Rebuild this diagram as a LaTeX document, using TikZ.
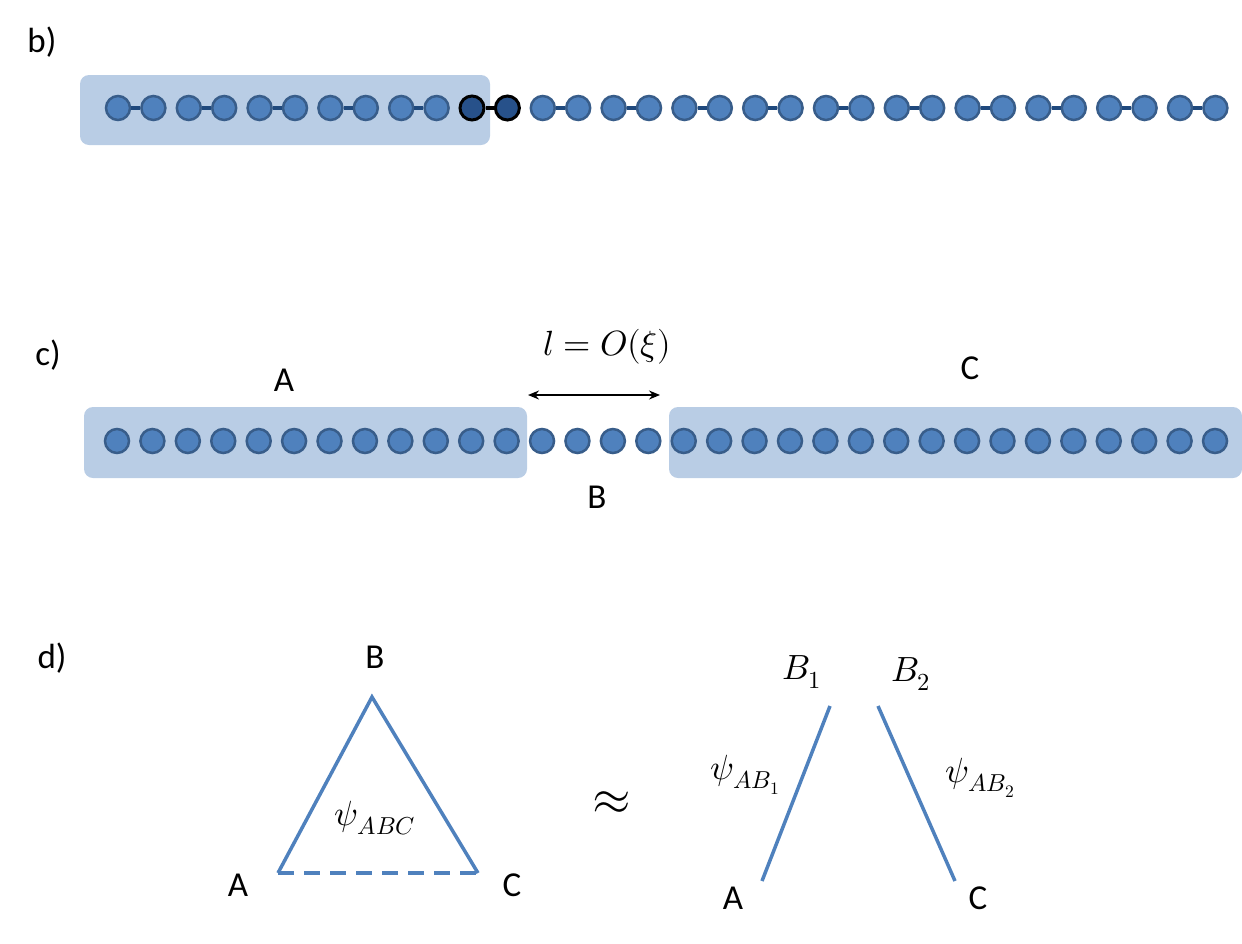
\documentclass[tikz,border=0pt]{standalone}
\usepackage{fontspec}
\usepackage{unicode-math}
\setmainfont{Carlito}
\setmathfont{Latin Modern Math}
\usetikzlibrary{arrows.meta}
\definecolor{siteblue}{HTML}{4F81BD}
\definecolor{siteedge}{HTML}{385D8A}
\definecolor{sitedark}{HTML}{27518A}
\definecolor{linkblue}{HTML}{1F497D}
\definecolor{regionblue}{HTML}{B9CDE5}
\begin{document}
\begin{tikzpicture}[x=1pt,y=-1pt,
  site/.style={circle, fill=siteblue, draw=siteedge, line width=2.5pt, minimum size=24pt, inner sep=0pt},
  darksite/.style={site, fill=sitedark, draw=black, line width=3pt},
  link/.style={draw=linkblue, line width=4.5pt},
  darklink/.style={draw=black, line width=4.5pt},
  region/.style={fill=regionblue, rounded corners=9pt, inner sep=0pt},
  lbl/.style={inner sep=0pt, font=\fontsize{35}{40}\selectfont},
  mlbl/.style={inner sep=0pt, font=\fontsize{35}{40}\selectfont},
  tri/.style={draw=siteblue, line width=3.5pt},
  span/.style={draw=black, line width=1.5pt, {Stealth[length=11pt,width=9pt]}-{Stealth[length=11pt,width=9pt]}}
]
\useasboundingbox (0,0) rectangle (1242,943);

% ---------- b) ----------
\node[lbl] (lb) at (42,42) {b)};
\node[region, minimum width=410pt, minimum height=70pt] (rb) at (285,110) {};
\foreach \i in {1,...,32} {
  \pgfmathsetmacro{\xx}{118+(\i-1)*35.4}
  \ifnum\i=11
    \node[darksite] (b\i) at (\xx,108) {};
  \else\ifnum\i=12
    \node[darksite] (b\i) at (\xx,108) {};
  \else
    \node[site] (b\i) at (\xx,108) {};
  \fi\fi
}
\foreach \i in {1,3,...,31} {
  \pgfmathtruncatemacro{\j}{\i+1}
  \ifnum\i=11
    \draw[darklink] (b\i) -- (b\j);
  \else
    \draw[link] (b\i) -- (b\j);
  \fi
}

% ---------- c) ----------
\node[lbl] (lc) at (48,355) {c)};
\node[region, minimum width=443pt, minimum height=71pt] (rA) at (305.5,442.5) {};
\node[region, minimum width=573pt, minimum height=71pt] (rC) at (955.5,442.5) {};
\foreach \i in {1,...,32} {
  \pgfmathsetmacro{\xx}{117+(\i-1)*35.42}
  \node[site] (c\i) at (\xx,441) {};
}
\node[lbl] (cA) at (284,380) {A};
\node[lbl] (cC) at (970,368) {C};
\node[lbl] (cB) at (597,497) {B};
\node[mlbl] (cl) at (607,347) {$l = O(\xi)$};
\coordinate (sL) at (528,395);
\coordinate (sR) at (660,395);
\draw[span] (sL) -- (sR);

% ---------- d) ----------
\node[lbl] (ld) at (52,658) {d)};
\coordinate (tA) at (278,873);
\coordinate (tB) at (372,697);
\coordinate (tC) at (478,873);
\draw[tri, line join=miter] (tA) -- (tB) -- (tC);
\draw[tri, dash pattern=on 16pt off 10pt] (tA) -- (tC);
\node[lbl] (dA) at (238,885) {A};
\node[lbl] (dB) at (375,657) {B};
\node[lbl] (dC) at (512,885) {C};
\node[mlbl] (psi) at (375,818) {$\psi_{ABC}$};
\node[inner sep=0pt, font=\fontsize{50}{56}\selectfont] (approx) at (612,803) {$\approx$};

\coordinate (eA) at (762,881);
\coordinate (eB1) at (830,706);
\coordinate (eB2) at (878,706);
\coordinate (eC) at (955,881);
\draw[tri] (eA) -- (eB1);
\draw[tri] (eB2) -- (eC);
\node[mlbl] (nB1) at (802,672) {$B_1$};
\node[mlbl] (nB2) at (911,674) {$B_2$};
\node[mlbl] (psi1) at (745,775) {$\psi_{AB_1}$};
\node[mlbl] (psi2) at (980,778) {$\psi_{AB_2}$};
\node[lbl] (eAl) at (733,898) {A};
\node[lbl] (eCl) at (978,898) {C};
\end{tikzpicture}
\end{document}
